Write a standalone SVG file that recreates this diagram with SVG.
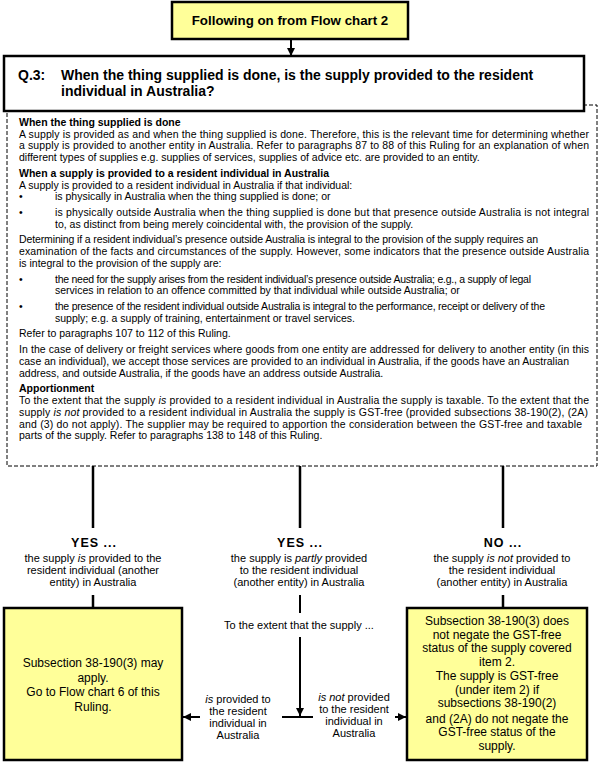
<svg xmlns="http://www.w3.org/2000/svg" width="599" height="762" viewBox="0 0 599 762">
<defs>
<style>
.yb{fill:#FFFF99;stroke:#000;stroke-width:2.5}
.qb{fill:#fff;stroke:#000;stroke-width:2.5}
.dash{fill:none;stroke:#000;stroke-width:1;stroke-dasharray:4 2}
.ln{stroke:#000;stroke-width:2.5;fill:none}
.ln2{stroke:#000;stroke-width:2;fill:none}
text{font-family:'Liberation Sans',Arial,Helvetica,sans-serif;fill:#000}
.body{font-size:10.5px}
.b{font-weight:bold}
.q{font-size:14px;font-weight:bold}
.lab{font-size:11px;text-anchor:middle}
.yn{font-size:12.5px;font-weight:bold;text-anchor:middle;letter-spacing:1px}
.bx{font-size:12px;text-anchor:middle}
.mid{font-size:11px;text-anchor:middle}
.i{font-style:italic}
</style>
<marker id="ah" markerUnits="userSpaceOnUse" markerWidth="8" markerHeight="8" refX="8" refY="4" orient="auto">
<path d="M0,0 L8,4 L0,8 Z" fill="#000"/>
</marker>
</defs>

<g id="start">
<rect class="yb" x="172" y="2" width="236" height="37"/>
<text class="b" x="290" y="24.5" font-size="13.3" text-anchor="middle">Following on from Flow chart 2</text>
</g>

<g id="question">
<rect class="dash" x="7" y="105" width="590" height="361"/>
<rect class="qb" x="4" y="56" width="580" height="55"/>
<text class="q" x="18" y="80">Q.3:</text>
<text class="q" x="61" y="80">When the thing supplied is done, is the supply provided to the resident</text>
<text class="q" x="61" y="96">individual in Australia?</text>
<g class="body">
<text class="b" x="19" y="125.7">When the thing supplied is done</text>
<text x="19" y="137.5" textLength="570">A supply is provided as and when the thing supplied is done. Therefore, this is the relevant time for determining whether</text>
<text x="19" y="149.3" textLength="570">a supply is provided to another entity in Australia. Refer to paragraphs 87 to 88 of this Ruling for an explanation of when</text>
<text x="19" y="161.1">different types of supplies e.g. supplies of services, supplies of advice etc. are provided to an entity.</text>
<text class="b" x="19" y="176.7">When a supply is provided to a resident individual in Australia</text>
<text x="19" y="188.5">A supply is provided to a resident individual in Australia if that individual:</text>
<text x="19" y="200.3">•</text>
<text x="55" y="200.3">is physically in Australia when the thing supplied is done; or</text>
<text x="19" y="215.9">•</text>
<text x="55" y="215.9" textLength="534">is physically outside Australia when the thing supplied is done but that presence outside Australia is not integral</text>
<text x="55" y="227.7">to, as distinct from being merely coincidental with, the provision of the supply.</text>
<text x="19" y="243.3" textLength="519">Determining if a resident individual’s presence outside Australia is integral to the provision of the supply requires an</text>
<text x="19" y="255.1" textLength="570">examination of the facts and circumstances of the supply. However, some indicators that the presence outside Australia</text>
<text x="19" y="266.9">is integral to the provision of the supply are:</text>
<text x="19" y="282.5">•</text>
<text x="55" y="282.5" textLength="476">the need for the supply arises from the resident individual’s presence outside Australia; e.g., a supply of legal</text>
<text x="55" y="294.3">services in relation to an offence committed by that individual while outside Australia; or</text>
<text x="19" y="309.9">•</text>
<text x="55" y="309.9" textLength="490">the presence of the resident individual outside Australia is integral to the performance, receipt or delivery of the</text>
<text x="55" y="321.7">supply; e.g. a supply of training, entertainment or travel services.</text>
<text x="19" y="337.3">Refer to paragraphs 107 to 112 of this Ruling.</text>
<text x="19" y="352.9" textLength="570">In the case of delivery or freight services where goods from one entity are addressed for delivery to another entity (in this</text>
<text x="19" y="364.7" textLength="550">case an individual), we accept those services are provided to an individual in Australia, if the goods have an Australian</text>
<text x="19" y="376.5">address, and outside Australia, if the goods have an address outside Australia.</text>
<text class="b" x="19" y="392.1">Apportionment</text>
<text x="19" y="403.9" textLength="570">To the extent that the supply <tspan class="i">is</tspan> provided to a resident individual in Australia the supply is taxable. To the extent that the</text>
<text x="19" y="415.7" textLength="569">supply <tspan class="i">is not</tspan> provided to a resident individual in Australia the supply is GST-free (provided subsections 38-190(2), (2A)</text>
<text x="19" y="427.5" textLength="563">and (3) do not apply). The supplier may be required to apportion the consideration between the GST-free and taxable</text>
<text x="19" y="439.3">parts of the supply. Refer to paragraphs 138 to 148 of this Ruling.</text>
</g>
</g>

<g id="connectors">
<line class="ln2" x1="291" y1="39" x2="291" y2="56" marker-end="url(#ah)"/>
<line class="ln" x1="93" y1="466" x2="93" y2="528"/>
<line class="ln" x1="93" y1="595" x2="93" y2="608"/>
<line class="ln" x1="300" y1="466" x2="300" y2="528"/>
<line class="ln2" x1="300" y1="595" x2="300" y2="613"/>
<line class="ln2" x1="300" y1="637" x2="300" y2="716" marker-end="url(#ah)"/>
<line class="ln" x1="503" y1="466" x2="503" y2="528"/>
<line class="ln" x1="503" y1="595" x2="503" y2="608"/>
<line class="ln2" x1="282" y1="717" x2="313" y2="717"/>
<line class="ln2" x1="200" y1="717" x2="183" y2="717" marker-end="url(#ah)"/>
<line class="ln2" x1="395" y1="717" x2="406" y2="717" marker-end="url(#ah)"/>
</g>

<g id="label-yes">
<text class="yn" x="94" y="547">YES ...</text>
<text class="lab" x="93" y="562">the supply <tspan class="i">is</tspan> provided to the</text>
<text class="lab" x="93" y="574">resident individual (another</text>
<text class="lab" x="93" y="586">entity) in Australia</text>
</g>

<g id="label-partly">
<text class="yn" x="300" y="547">YES ...</text>
<text class="lab" x="299" y="562">the supply is <tspan class="i">partly</tspan> provided</text>
<text class="lab" x="299" y="574">to the resident individual</text>
<text class="lab" x="299" y="586">(another entity) in Australia</text>
<text class="mid" x="299" y="629">To the extent that the supply ...</text>
</g>

<g id="label-no">
<text class="yn" x="503" y="547">NO ...</text>
<text class="lab" x="502" y="562">the supply <tspan class="i">is not</tspan> provided to</text>
<text class="lab" x="502" y="574">the resident individual</text>
<text class="lab" x="502" y="586">(another entity) in Australia</text>
</g>

<g id="label-is">
<text class="mid" x="238" y="702.5"><tspan class="i">is</tspan> provided to</text>
<text class="mid" x="238" y="714.5">the resident</text>
<text class="mid" x="238" y="726.5">individual in</text>
<text class="mid" x="238" y="738.5">Australia</text>
</g>

<g id="label-isnot">
<text class="mid" x="354" y="700.5"><tspan class="i">is not</tspan> provided</text>
<text class="mid" x="354" y="712.5">to the resident</text>
<text class="mid" x="354" y="724.5">individual in</text>
<text class="mid" x="354" y="736.5">Australia</text>
</g>

<g id="box-yes">
<rect class="yb" x="4" y="608" width="178" height="152"/>
<text class="bx" x="93" y="667">Subsection 38-190(3) may</text>
<text class="bx" x="93" y="681.5">apply.</text>
<text class="bx" x="93" y="696">Go to Flow chart 6 of this</text>
<text class="bx" x="93" y="710.5">Ruling.</text>
</g>

<g id="box-no">
<rect class="yb" x="407" y="608" width="180" height="152"/>
<text class="bx" x="497" y="625">Subsection 38-190(3) does</text>
<text class="bx" x="497" y="638.7">not negate the GST-free</text>
<text class="bx" x="497" y="652.4">status of the supply covered</text>
<text class="bx" x="497" y="666.1">item 2.</text>
<text class="bx" x="497" y="679.8">The supply is GST-free</text>
<text class="bx" x="497" y="693.5">(under item 2) if</text>
<text class="bx" x="497" y="707.2">subsections 38-190(2)</text>
<text class="bx" x="497" y="722.5">and (2A) do not negate the</text>
<text class="bx" x="497" y="736.2">GST-free status of the</text>
<text class="bx" x="497" y="749.9">supply.</text>
</g>
</svg>
